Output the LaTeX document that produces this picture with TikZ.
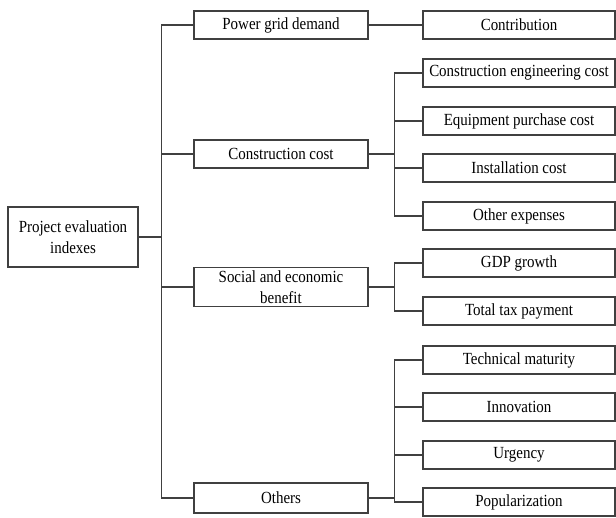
\documentclass[tikz,border=0pt]{standalone}
\usepackage{fontspec}
\setmainfont{Liberation Serif}[FakeStretch=0.88]
\usetikzlibrary{positioning}
\colorlet{linecol}{black!75}

\begin{document}
\begin{tikzpicture}[x=1pt,y=-1pt,
    box/.style={draw=linecol, line width=1.2pt, inner sep=1pt, align=center,
        font=\fontsize{17}{21}\selectfont},
    mainbox/.style={box, minimum width=174pt, minimum height=28pt},
    subbox/.style={box, minimum width=192pt, minimum height=28pt},
    link/.style={draw=linecol, line width=1.2pt}]
	\useasboundingbox (0,0) rectangle (616,518);
	% root
	\node[box, minimum width=130pt, minimum height=60pt] (root) at (73,237) {Project evaluation\\indexes};
	% first level
	\node[mainbox] (pgd) at (281,25) {Power grid demand};
	\node[mainbox] (cc) at (281,154) {Construction cost};
	\node[mainbox, minimum height=39pt] (soc) at (281,287) {Social and economic\\benefit};
	\node[mainbox, minimum height=30pt] (oth) at (281,498) {Others};
	% second level
	\node[subbox] (con) at (519,25) {Contribution};
	\node[subbox] (cec) at (519,73) {Construction engineering cost};
	\node[subbox] (epc) at (519,121) {Equipment purchase cost};
	\node[subbox] (inc) at (519,168) {Installation cost};
	\node[subbox] (oex) at (519,216) {Other expenses};
	\node[subbox] (gdp) at (519,263) {GDP growth};
	\node[subbox] (tax) at (519,311) {Total tax payment};
	\node[subbox] (tec) at (519,360) {Technical maturity};
	\node[subbox] (inn) at (519,407) {Innovation};
	\node[subbox] (urg) at (519,455) {Urgency};
	\node[subbox] (pop) at (519,502) {Popularization};

	% connectors
	\foreach \n in {pgd,cc,soc,oth}
		\draw[link] (root.east) -- ++(23,0) |- (\n.west);
	\draw[link] (pgd) -- (con);
	\foreach \n in {cec,epc,inc,oex}
		\draw[link] (cc.east) -- ++(26,0) |- (\n.west);
	\foreach \n in {gdp,tax}
		\draw[link] (soc.east) -- ++(26,0) |- (\n.west);
	\foreach \n in {tec,inn,urg,pop}
		\draw[link] (oth.east) -- ++(26,0) |- (\n.west);
\end{tikzpicture}
\end{document}
